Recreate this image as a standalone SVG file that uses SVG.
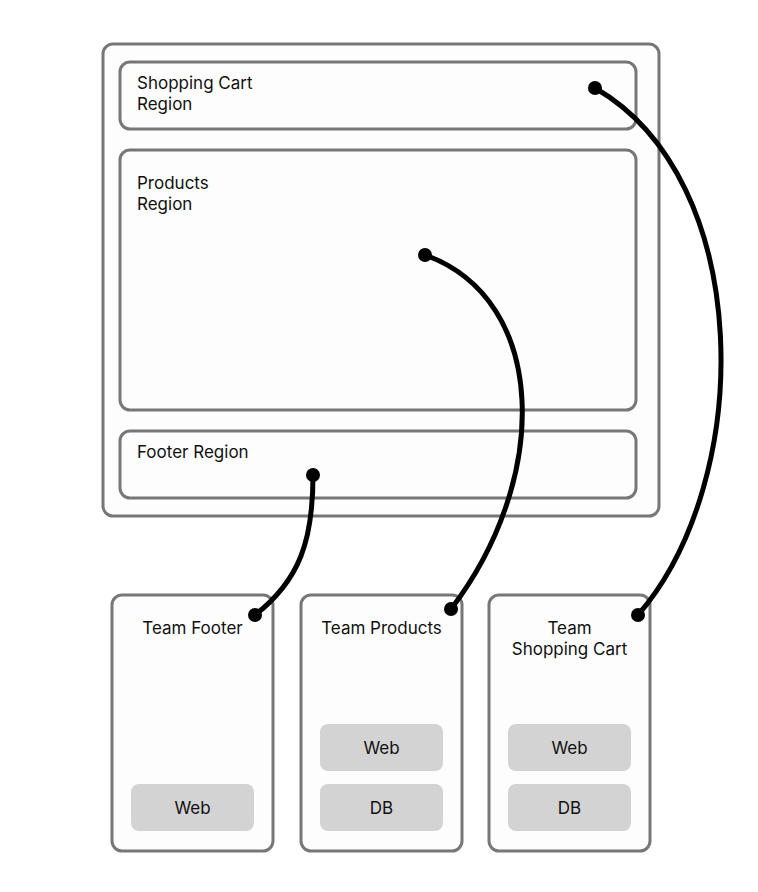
<svg xmlns="http://www.w3.org/2000/svg" width="758" height="892" viewBox="0 0 758 892">
<style>
.box{fill:#fdfdfd;stroke:#777;stroke-width:3}
.comp{fill:#d3d3d3}
text{font-family:Inter,"Noto Sans",sans-serif;font-size:17px;fill:#111}
.c{text-anchor:middle}
.link{fill:none;stroke:#000;stroke-width:5;stroke-linecap:round}
.dot{fill:#000}
</style>
<rect width="758" height="892" fill="#fff"/>
<g id="page"><rect class="box" x="103" y="44" width="556" height="472" rx="10"/></g>
<g id="cart-region"><rect class="box" x="120" y="62" width="516" height="67" rx="10"/><text x="137" y="89">Shopping Cart</text><text x="137" y="110">Region</text></g>
<g id="products-region"><rect class="box" x="120" y="150" width="516" height="260" rx="10"/><text x="137" y="189">Products</text><text x="137" y="210">Region</text></g>
<g id="footer-region"><rect class="box" x="120" y="431" width="516" height="67" rx="10"/><text x="137" y="458">Footer Region</text></g>
<g id="team-footer"><rect class="box" x="112" y="595" width="161" height="256" rx="10"/><text class="c" x="192.500" y="634">Team Footer</text><rect class="comp" x="131" y="784" width="123" height="47" rx="8"/><text class="c" x="192.500" y="814">Web</text></g>
<g id="team-products"><rect class="box" x="301" y="595" width="161" height="256" rx="10"/><text class="c" x="381.500" y="634">Team Products</text><rect class="comp" x="320" y="724" width="123" height="47" rx="8"/><text class="c" x="381.500" y="754">Web</text><rect class="comp" x="320" y="784" width="123" height="47" rx="8"/><text class="c" x="381.500" y="814">DB</text></g>
<g id="team-cart"><rect class="box" x="489" y="595" width="161" height="256" rx="10"/><text class="c" x="569.500" y="634">Team</text><text class="c" x="569.500" y="655">Shopping Cart</text><rect class="comp" x="508" y="724" width="123" height="47" rx="8"/><text class="c" x="569.500" y="754">Web</text><rect class="comp" x="508" y="784" width="123" height="47" rx="8"/><text class="c" x="569.500" y="814">DB</text></g>
<g id="connectors">
<path class="link" d="M595,88 C755,180 755,480 638,615"/>
<path class="link" d="M425,255 C550,300 550,480 451,609"/>
<path class="link" d="M313,475 C313,540 300,580 255,615"/>
<circle class="dot" cx="595" cy="88" r="7"/><circle class="dot" cx="638" cy="615" r="7"/>
<circle class="dot" cx="425" cy="255" r="7"/><circle class="dot" cx="451" cy="609" r="7"/>
<circle class="dot" cx="313" cy="475" r="7"/><circle class="dot" cx="255" cy="615" r="7"/>
</g>
</svg>
